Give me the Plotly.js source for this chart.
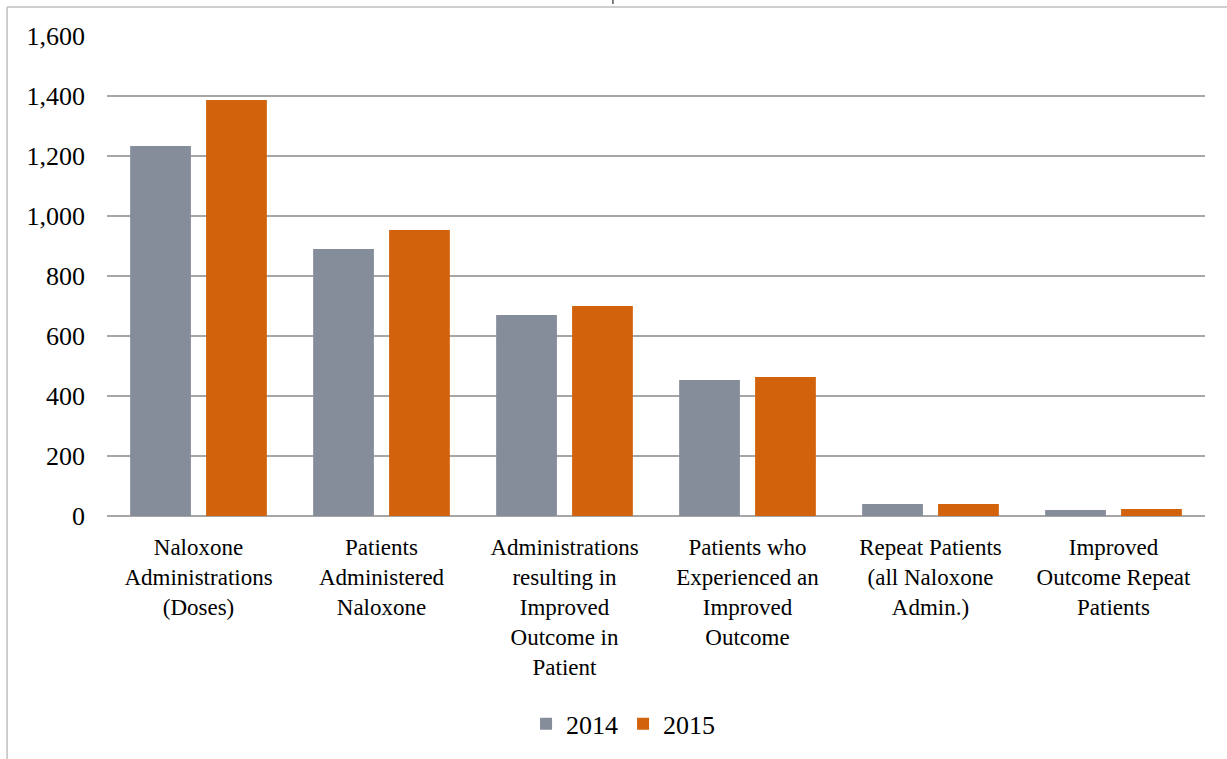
<!DOCTYPE html>
<html><head><meta charset="utf-8">
<script src="https://cdn.plot.ly/plotly-3.0.1.min.js"></script>
<style>html,body{margin:0;padding:0;background:#fff;}</style>
</head><body>
<div id="chart" style="width:1227px;height:759px;"></div>
<script>
const categories = [
  "Naloxone<br>Administrations<br>(Doses)",
  "Patients<br>Administered<br>Naloxone",
  "Administrations<br>resulting in<br>Improved<br>Outcome in<br>Patient",
  "Patients who<br>Experienced an<br>Improved<br>Outcome",
  "Repeat Patients<br>(all Naloxone<br>Admin.)",
  "Improved<br>Outcome Repeat<br>Patients"
];
const values2014 = [1233, 890, 670, 453, 40, 20];
const values2015 = [1387, 953, 700, 463, 40, 23];
const yTicks = [0, 200, 400, 600, 800, 1000, 1200, 1400, 1600];

const fam = "Liberation Serif, Times New Roman, serif";
const catFont = {family: fam, size: 23, color: "#000"};
const numFont = {family: fam, size: 26, color: "#000"};
const data = [
  {type: "bar", name: "2014", x: categories, y: values2014, marker: {color: "#858D9A"}},
  {type: "bar", name: "2015", x: categories, y: values2015, marker: {color: "#D2620B"}}
];
const layout = {
  width: 1227, height: 759,
  margin: {l: 107, r: 22, t: 36, b: 243},
  paper_bgcolor: "#fff", plot_bgcolor: "#fff",
  font: numFont,
  barmode: "group", bargap: 0.17, bargroupgap: 0.2,
  showlegend: true,
  legend: {orientation: "h", x: 0.47, xanchor: "center", y: -0.433, yanchor: "middle", font: numFont, itemwidth: 30, tracegroupgap: 0},
  xaxis: {type: "category", tickfont: catFont, showgrid: false, zeroline: false, showline: false, ticks: "", ticklabelstandoff: 15, automargin: false},
  yaxis: {range: [0, 1600], tickvals: yTicks, tickformat: ",d", tickfont: numFont, showgrid: true, gridcolor: "#A6A6A6", gridwidth: 1.5, zeroline: true, zerolinecolor: "#A6A6A6", zerolinewidth: 1.5, showline: false, ticks: "", ticklabelstandoff: 21, automargin: false},
  shapes: [
    {type: "line", xref: "paper", yref: "paper", x0: -0.091, x1: 1.03, y0: 1.0604, y1: 1.0604, line: {color: "#BFBFBF", width: 1.5}},
    {type: "line", xref: "paper", yref: "paper", x0: -0.091, x1: -0.091, y0: 1.0604, y1: -0.52, line: {color: "#BFBFBF", width: 1.5}},
    {type: "line", xref: "paper", yref: "paper", x0: 0.4608, x1: 0.4608, y0: 1.075, y1: 1.0667, line: {color: "#000", width: 1}}
  ]
};
Plotly.newPlot("chart", data, layout, {displayModeBar: false, staticPlot: true});
</script>
</body></html>
